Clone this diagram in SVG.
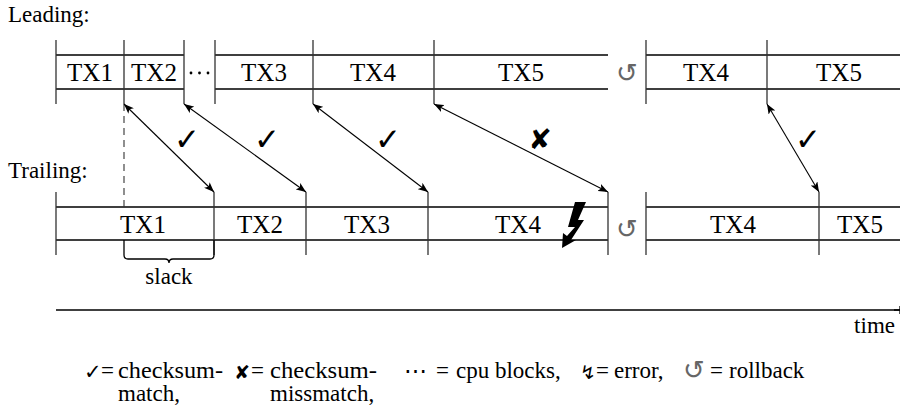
<svg xmlns="http://www.w3.org/2000/svg" width="901" height="408" viewBox="0 0 901 408">
<style>
  .t{font-family:'Liberation Serif','DejaVu Serif',serif;font-size:23px;fill:#000}
  .tx{font-family:'Liberation Serif','DejaVu Serif',serif;font-size:25px;fill:#000;text-anchor:middle}
  .sym{font-family:'DejaVu Sans',sans-serif;fill:#000}
  .ln{stroke:#000;stroke-width:1.3;fill:none}
  .tk{stroke:#333;stroke-width:1.3;fill:none}
  .ar{stroke:#000;stroke-width:1.1;fill:none;marker-start:url(#ah);marker-end:url(#ah)}
  .rb{font-family:'DejaVu Sans',sans-serif;font-size:26px;fill:#666;text-anchor:middle}
</style>
<defs>
  <marker id="ah" viewBox="0 0 10 8" refX="10" refY="4" markerWidth="10" markerHeight="8" markerUnits="userSpaceOnUse" orient="auto-start-reverse">
    <path d="M0,0 L10,4 L0,8 L2.5,4 Z" fill="#000"/>
  </marker>
  <marker id="ta" viewBox="0 0 6 8" refX="6" refY="4" markerWidth="6" markerHeight="8" markerUnits="userSpaceOnUse" orient="auto">
    <path d="M0,4 L6,4 M6,0 L6,8" stroke="#000" stroke-width="1.3" fill="none"/>
  </marker>
</defs>

<text class="t" x="8" y="22">Leading:</text>
<text class="t" x="8" y="178">Trailing:</text>

<g id="leading">
  <path class="ln" d="M56,55 H184 M56,89 H184 M215,55 H608 M215,89 H608 M646,55 H900 M646,89 H900"/>
  <path class="tk" d="M56,40 V104 M124,40 V104 M184,40 V104 M215,40 V104 M313,40 V104 M434,40 V104 M646,40 V104 M767,40 V104"/>
  <g fill="#000"><circle cx="191" cy="73" r="1.4"/><circle cx="199.5" cy="73" r="1.4"/><circle cx="208" cy="73" r="1.4"/></g>
  <text class="tx" x="90" y="81">TX1</text>
  <text class="tx" x="154" y="81">TX2</text>
  <text class="tx" x="264" y="81">TX3</text>
  <text class="tx" x="373" y="81">TX4</text>
  <text class="tx" x="521" y="81">TX5</text>
  <text class="rb" x="627" y="82">↺</text>
  <text class="tx" x="706" y="81">TX4</text>
  <text class="tx" x="839" y="81">TX5</text>
</g>

<g id="trailing">
  <path class="ln" d="M56,207 H608 M56,240 H608 M646,207 H900 M646,240 H900"/>
  <path class="tk" d="M56,192 V255 M214,192 V255 M306,192 V255 M428,192 V255 M608,192 V255 M646,192 V255 M819,192 V255"/>
  <text class="tx" x="143" y="233">TX1</text>
  <text class="tx" x="260" y="233">TX2</text>
  <text class="tx" x="367" y="233">TX3</text>
  <text class="tx" x="518" y="233">TX4</text>
  <polygon points="575,202 586,202 578,220 584,220 571,240 576,240 562,248 563,233 567,236 575,227 568,227" fill="#000"/>
  <text class="rb" x="627" y="238">↺</text>
  <text class="tx" x="733" y="233">TX4</text>
  <text class="tx" x="860" y="233">TX5</text>
</g>

<g id="slack">
  <path d="M124,104 V207" stroke="#333" stroke-width="1.1" stroke-dasharray="7,5" fill="none"/>
  <path class="ln" stroke-width="1.1" d="M124,240 V255 Q124,259 128,259 H165 Q169,259 169,263 Q169,259 173,259 H210 Q214,259 214,255 V240"/>
  <text class="t" x="169" y="284" text-anchor="middle">slack</text>
</g>

<g id="connectors">
  <path class="ar" d="M124,104 L214,192"/>
  <path class="ar" d="M184,104 L306,192"/>
  <path class="ar" d="M313,104 L428,192"/>
  <path class="ar" d="M434,104 L608,192"/>
  <path class="ar" d="M767,104 L819,192"/>
  <path class="ln" d="M56,310 H900" marker-end="url(#ta)"/>
</g>

<g id="marks">
  <text class="sym" x="187" y="150" font-size="31" text-anchor="middle">✓</text>
  <text class="sym" x="267" y="150" font-size="31" text-anchor="middle">✓</text>
  <text class="sym" x="388" y="150" font-size="31" text-anchor="middle">✓</text>
  <text class="sym" x="540" y="149" font-size="28" text-anchor="middle">✘</text>
  <text class="sym" x="808" y="150" font-size="31" text-anchor="middle">✓</text>
</g>

<text class="t" x="895" y="333" text-anchor="end">time</text>

<g id="legend">
  <text class="sym" x="84" y="379" font-size="21">✓</text>
  <text class="t" x="101" y="378">=</text>
  <text class="t" x="118" y="378" textLength="105" lengthAdjust="spacingAndGlyphs">checksum-</text>
  <text class="t" x="118" y="401">match,</text>
  <text class="sym" x="234" y="379" font-size="19">✘</text>
  <text class="t" x="251" y="378">=</text>
  <text class="t" x="270" y="378" textLength="107" lengthAdjust="spacingAndGlyphs">checksum-</text>
  <text class="t" x="270" y="401">missmatch,</text>
  <text class="t" x="404" y="378">⋯</text>
  <text class="t" x="436" y="378">=</text>
  <text class="t" x="456" y="378">cpu blocks,</text>
  <text class="sym" x="580" y="379" font-size="19">↯</text>
  <text class="t" x="596" y="378">=</text>
  <text class="t" x="614" y="378">error,</text>
  <text class="rb" x="694" y="379" font-size="21">↺</text>
  <text class="t" x="710" y="378">=</text>
  <text class="t" x="729" y="378">rollback</text>
</g>
</svg>
